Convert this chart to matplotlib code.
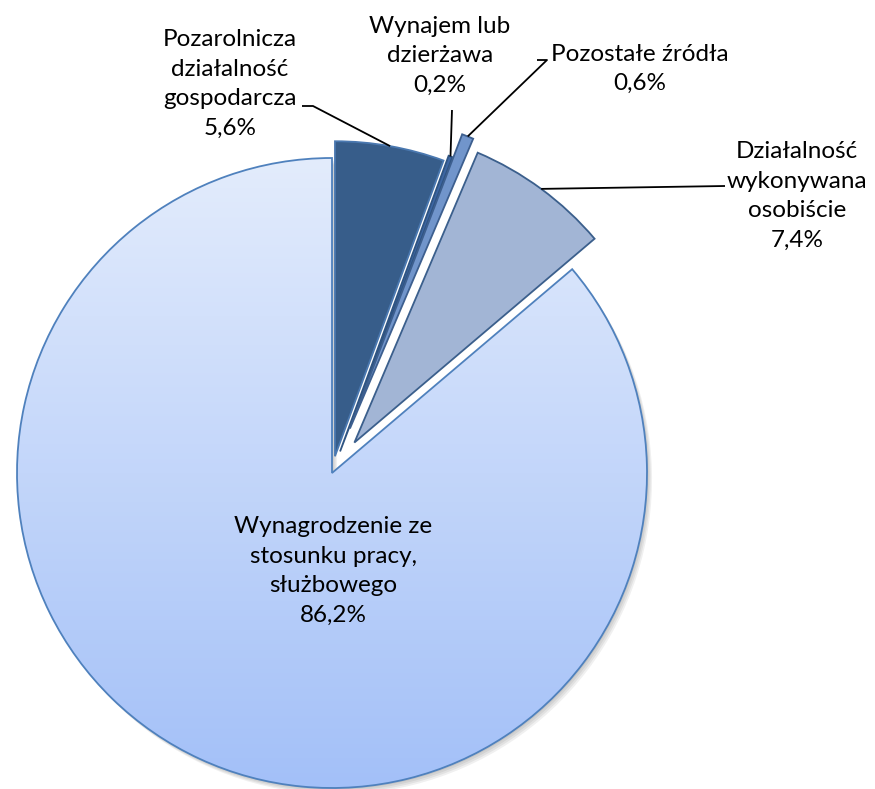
import numpy as np
import matplotlib
matplotlib.use('Agg')
import matplotlib.pyplot as plt
from matplotlib.colors import LinearSegmentedColormap
from matplotlib.patches import Wedge

#%% Data
labels = ['Pozarolnicza\ndziałalność\ngospodarcza',
          'Wynajem lub\ndzierżawa',
          'Pozostałe źródła',
          'Działalność\nwykonywana\nosobiście',
          'Wynagrodzenie ze\nstosunku pracy,\nsłużbowego']
shares = [5.6, 0.2, 0.6, 7.4, 86.2]
explode = [0.054, 0.073, 0.152, 0.12, 0.0]

COLORS = ['#375d8a', '#3d66a3', '#7195cb', '#a2b5d5', 'white']
EDGES = ['#4a78b0', '#2f5482', '#3d5f8f', '#3b5f8c', '#4f81bd']

# pixel geometry of the reference (875x789), pie centre and radius
W, H = 875, 789
CX, CY, R = 332, 473, 315

def px(x, y):
    return (x - CX) / R, (CY - y) / R

plt.rcParams['font.family'] = ['Lato', 'DejaVu Sans']

fig = plt.figure(figsize=(W / 100, H / 100), dpi=100)
ax = fig.add_axes([0, 0, 1, 1])

wedges, _ = ax.pie(shares, explode=explode, startangle=90, counterclock=False,
                   colors=COLORS, radius=1, center=(0, 0),
                   wedgeprops=dict(linewidth=1.3))
for w, ec in zip(wedges, EDGES):
    w.set_edgecolor(ec)

# soft shadow under the big slice
big = wedges[-1]
for k in range(1, 5):
    sh = Wedge((0.004 * k, -0.005 * k), 1, big.theta1, big.theta2,
               facecolor='black', edgecolor='none', alpha=0.06,
               zorder=big.get_zorder() - 0.5)
    ax.add_patch(sh)

# vertical gradient for the big slice (light at top, darker at bottom)
cmap = LinearSegmentedColormap.from_list('grad', ['#e3ecfc', '#a3c0f8'])
grad = np.linspace(0, 1, 256).reshape(-1, 1)
img = ax.imshow(grad, cmap=cmap, extent=[-1, 1, -1, 1], origin='upper',
                aspect='auto', zorder=big.get_zorder() + 0.1)
img.set_clip_path(big)
big.set_facecolor('none')
big.set_zorder(big.get_zorder() + 0.2)

x0, y0 = px(0, 0)
x1, y1 = px(W, H)
ax.set_xlim(x0, x1)
ax.set_ylim(y1, y0)
ax.set_aspect('equal')
ax.axis('off')

#%% Labels and leader lines
pct = ['{:.1f}%'.format(v).replace('.', ',') for v in shares]
label_pos = [(230, 84), (440, 56), (640, 69), (797, 196), (333, 571)]

for i, (lbl, (lx, ly)) in enumerate(zip(labels, label_pos)):
    tx, ty = px(lx, ly)
    ax.text(tx, ty, lbl + '\n' + pct[i], ha='center', va='center',
            fontsize=17.5, linespacing=1.5, color='black', zorder=10)

# leader lines: from label elbow to the midpoint of the wedge arc
cum = np.cumsum([0] + shares)
leader_pts = {0: [(302, 106), (313, 106)],
              1: [(452, 110)],
              2: [(537, 60), (547, 60)],
              3: [(725, 186)]}
for i, pts in leader_pts.items():
    ang = np.deg2rad(90 - 3.6 * (cum[i] + cum[i + 1]) / 2)
    r = 1 + explode[i]
    xy = [px(*p) for p in pts] + [(r * np.cos(ang), r * np.sin(ang))]
    ax.plot([p[0] for p in xy], [p[1] for p in xy], color='black', lw=1.3,
            zorder=9, solid_capstyle='butt')

fig.savefig('out.png', dpi=100)
